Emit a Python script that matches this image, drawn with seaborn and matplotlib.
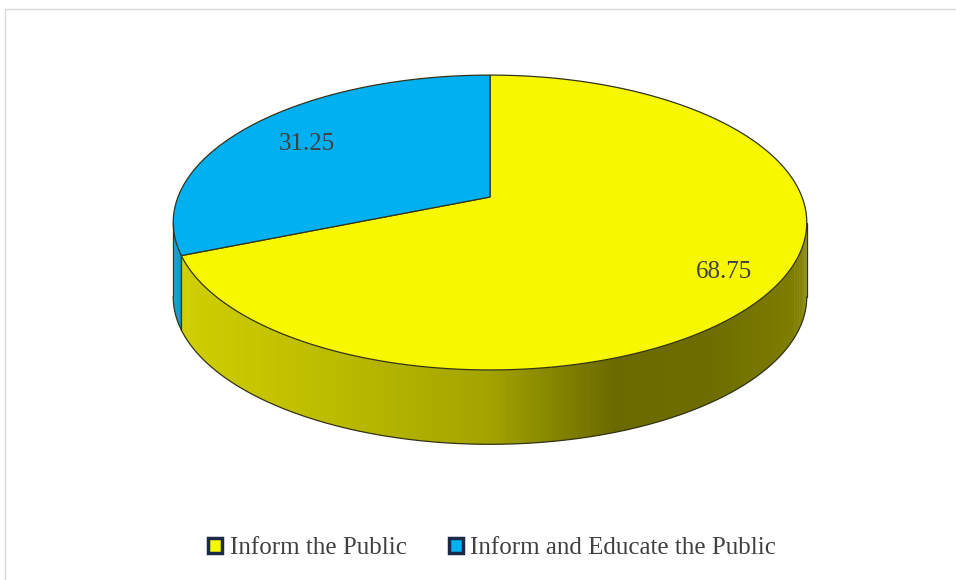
import numpy as np
import matplotlib
matplotlib.use("Agg")
import matplotlib.pyplot as plt
import seaborn as sns
from matplotlib.patches import Patch, Polygon, Rectangle
from matplotlib.path import Path
from matplotlib.transforms import Transform

# --- data ---
categories = ["Inform the Public", "Inform and Educate the Public"]
values = [68.75, 31.25]
colors = ["#F7F700", "#00B0F0"]


class Tilt(Transform):
    """Simple perspective: the far half of the disc gets squeezed."""
    input_dims = output_dims = 2

    def __init__(self, p):
        super().__init__()
        self.p = p

    def transform_non_affine(self, xy):
        xy = np.asarray(xy, dtype=float)
        d = 1 + self.p * xy[:, 1]
        return np.column_stack([xy[:, 0] / d, xy[:, 1] / d])

    def transform_path_non_affine(self, path):
        # sample every bezier piece finely before bending it
        tt = np.linspace(0, 1, 40)
        pts = [seg(tt) for seg, code in path.iter_bezier()]
        return Path(self.transform_non_affine(np.vstack(pts)), closed=True)


# --- style ---
sns.set_theme(style="white")
plt.rcParams['font.family'] = ['Liberation Serif', 'DejaVu Serif']

fig = plt.figure(figsize=(9.56, 5.8), dpi=100)
ax = fig.add_axes([0, 0, 1, 1])

tilt = Tilt(0.173)
depth = 0.52          # thickness of the disc (screen y units)
start = 90            # first slice at 12 o'clock, clockwise
edge = '#34331a'

fracs = np.cumsum([0] + values) / sum(values) * 360
shade_x = [-1.02, -0.5, 0.0, 0.4, 0.7, 1.02]
shade_f = [0.84, 0.76, 0.66, 0.43, 0.44, 0.52]

# visible part of the side wall: between the two silhouette points
t_side = np.degrees(np.arcsin(tilt.p))
ts = np.linspace(180 + t_side, 360 - t_side, 321)


def rim(t):
    r = np.radians(np.atleast_1d(t))
    return tilt.transform_non_affine(np.column_stack([np.cos(r), np.sin(r)]))


for t1, t2 in zip(ts[:-1], ts[1:]):
    tm = 0.5 * (t1 + t2)
    a = (start - tm) % 360
    idx = min(np.searchsorted(fracs, a, side='right') - 1, len(values) - 1)
    p1, p2 = rim([t1, t2 + 0.3])
    f = np.interp(0.5 * (p1[0] + p2[0]), shade_x, shade_f)
    base = np.array(matplotlib.colors.to_rgb(colors[idx]))
    poly = [p1, p2, (p2[0], p2[1] - depth), (p1[0], p1[1] - depth)]
    ax.add_patch(Polygon(poly, closed=True, facecolor=base * f,
                         edgecolor='none', zorder=1))

# outline of the side wall
bottom = rim(ts)
ax.plot(bottom[:, 0], bottom[:, 1] - depth, color=edge, lw=0.9, zorder=3)
for t in [ts[0], ts[-1]] + [(start - b) % 360 for b in fracs[1:-1]]:
    if ts[0] <= t <= ts[-1]:
        (x, y), = rim(t)
        ax.plot([x, x], [y, y - depth], color=edge, lw=0.9, zorder=3)

# top surface
wedges, texts, autotexts = ax.pie(
    values, colors=colors, startangle=start, counterclock=False,
    radius=1, center=(0, 0), autopct=lambda p: f"{p:.2f}", pctdistance=0.8,
    wedgeprops=dict(edgecolor=edge, linewidth=0.9, zorder=2),
    textprops=dict(fontsize=18, color='#404040'), frame=False)

for w in wedges:
    w.set_transform(tilt + ax.transData)
for txt in autotexts:
    (x, y), = tilt.transform_non_affine([txt.get_position()])
    txt.set_position((x + 0.03, y - 0.045))
    txt.set_zorder(4)

ax.set_aspect('auto')
ax.set_xlim(-1.5705, 1.4936)
ax.set_ylim(-2.678, 1.3776)
ax.axis('off')

# legend
handles = [Patch(facecolor=c, edgecolor='#1b2a47', linewidth=2.5) for c in colors]
fig.legend(handles, categories, loc='center', bbox_to_anchor=(0.515, 0.055),
           ncol=2, frameon=False, fontsize=18, handlelength=0.55,
           handleheight=0.55, handletextpad=0.3, columnspacing=1.7,
           labelcolor='#404040')

# chart area border (top and left edges show)
fig.add_artist(Rectangle((5 / 956, -0.1), 2, 1 - 9 / 580 + 0.1,
                         transform=fig.transFigure, fill=False,
                         edgecolor='#d9d9d9', linewidth=1))

fig.savefig('out.png', dpi=100)
plt.close(fig)
